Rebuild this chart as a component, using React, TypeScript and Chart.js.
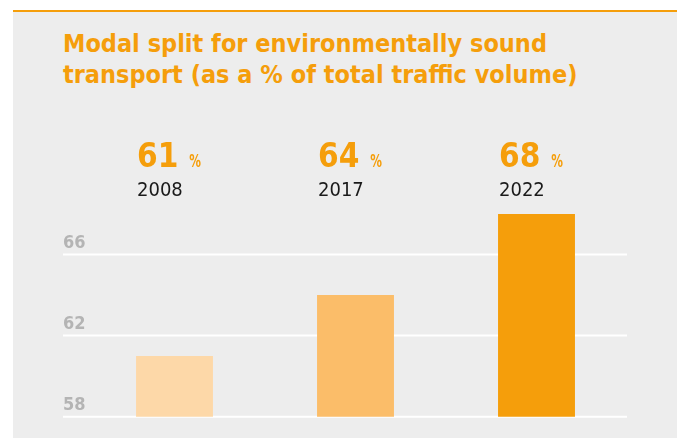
import React, { useEffect, useRef } from "react";
import { Chart, registerables } from "chart.js";

Chart.register(...registerables);

const years = ["2008", "2017", "2022"];
const shares = [61, 64, 68];
const barColors = ["#FDD8A8", "#FBBD69", "#F59E0B"];
const yTicks = [58, 62, 66];
const titleLines = [
  "Modal split for environmentally sound",
  "transport (as a % of total traffic volume)",
];

const FONT = "'DejaVu Sans Condensed', 'DejaVu Sans', sans-serif";
const ORANGE = "#F59E0B";

const overlayPlugin = {
  id: "overlay",
  beforeDatasetsDraw(chart: any) {
    const ctx = chart.ctx;
    const y = chart.scales.y;
    ctx.save();
    ctx.strokeStyle = "#ffffff";
    ctx.lineWidth = 2;
    yTicks.forEach((v) => {
      const py = y.getPixelForValue(v);
      ctx.beginPath();
      ctx.moveTo(63, py);
      ctx.lineTo(627, py);
      ctx.stroke();
      ctx.fillStyle = "#B4B4B4";
      ctx.font = `bold 18px ${FONT}`;
      ctx.textAlign = "left";
      ctx.textBaseline = "alphabetic";
      ctx.fillText(String(v), 63, py - 7);
    });
    ctx.restore();
  },
  afterDatasetsDraw(chart: any) {
    const ctx = chart.ctx;
    const meta = chart.getDatasetMeta(0);
    ctx.save();
    ctx.textAlign = "left";
    ctx.textBaseline = "alphabetic";
    meta.data.forEach((bar: any, i: number) => {
      const left = bar.x - bar.width / 2 + 1;
      ctx.fillStyle = ORANGE;
      ctx.font = `bold 33px ${FONT}`;
      const num = String(shares[i]);
      ctx.fillText(num, left, 167);
      const w = ctx.measureText(num).width;
      ctx.save();
      ctx.translate(left + w + 11, 167);
      ctx.scale(1, 1.35);
      ctx.font = `bold 13px ${FONT}`;
      ctx.fillText("%", 0, 0);
      ctx.restore();
      ctx.fillStyle = "#1a1a1a";
      ctx.font = `20px ${FONT}`;
      ctx.fillText(years[i], left, 196);
    });
    ctx.restore();
  },
};

export default function App() {
  const ref = useRef<HTMLCanvasElement>(null);
  useEffect(() => {
    const chart = new Chart(ref.current!, {
      type: "bar",
      data: {
        labels: years,
        datasets: [
          {
            data: shares,
            backgroundColor: barColors,
            borderWidth: 0,
            categoryPercentage: 1,
            barPercentage: 0.425,
          },
        ],
      },
      options: {
        animation: false,
        responsive: false,
        maintainAspectRatio: false,
        layout: { padding: { left: 84, right: 50, top: 214, bottom: 21.3 } },
        plugins: { legend: { display: false }, tooltip: { enabled: false }, title: { display: false } },
        scales: {
          x: { display: false },
          y: { display: false, min: 58, max: 68 },
        },
      },
      plugins: [overlayPlugin],
    });
    return () => chart.destroy();
  }, []);

  return (
    <div style={{ position: "fixed", left: 0, top: 0, width: 677, height: 438, background: "#ffffff", overflow: "hidden" }}>
      <div
        style={{
          position: "absolute",
          left: 13,
          top: 10,
          width: 664,
          height: 428,
          background: "#EDEDED",
          borderTop: `2px solid ${ORANGE}`,
          boxSizing: "border-box",
        }}
      />
      <div
        style={{
          position: "absolute",
          left: 63,
          top: 28,
          fontFamily: FONT,
          fontWeight: "bold",
          fontSize: 25,
          lineHeight: "31px",
          color: ORANGE,
          whiteSpace: "nowrap",
        }}
      >
        {titleLines.map((t, i) => (
          <div key={i}>{t}</div>
        ))}
      </div>
      <canvas ref={ref} width={677} height={438} style={{ position: "absolute", left: 0, top: 0 }} />
    </div>
  );
}
